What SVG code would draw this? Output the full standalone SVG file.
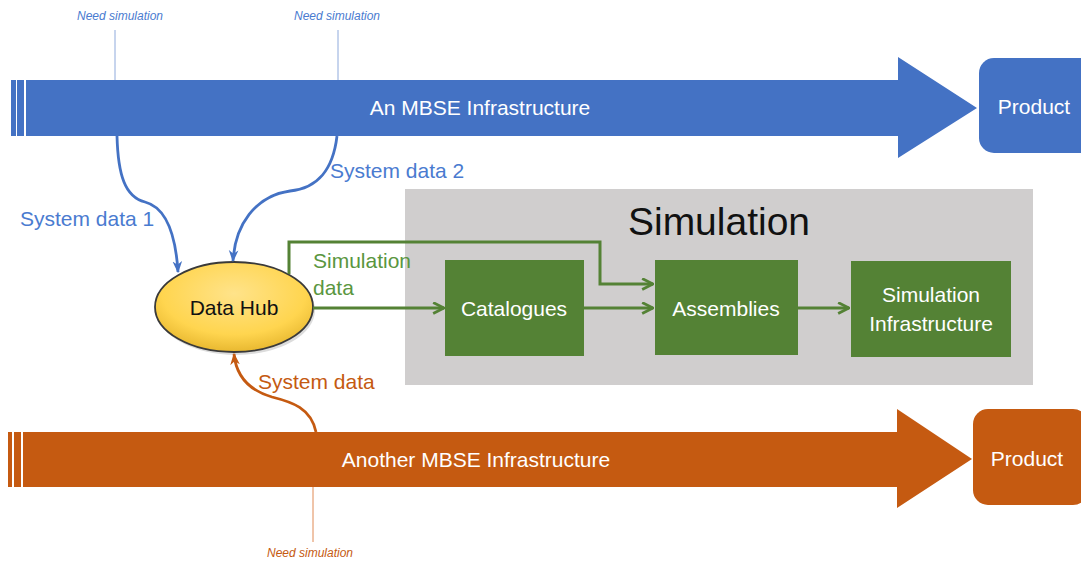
<svg xmlns="http://www.w3.org/2000/svg" width="1081" height="564" viewBox="0 0 1081 564">
<defs>
<style>
text{font-family:"Liberation Sans",Arial,sans-serif}
.w{fill:#fff;font-size:21px}
.need{font-size:12px;font-style:italic}
.lblB{fill:#4A7BD0;font-size:21px}
.lblG{fill:#5A9640;font-size:21px}
.lblO{fill:#C55A11;font-size:21px}
.box{fill:#548235}
.gl{fill:none;stroke:#548235;stroke-width:3}
</style>
<radialGradient id="hub" cx="0.5" cy="0.35" r="0.65">
<stop offset="0" stop-color="#FFE38A"/>
<stop offset="0.7" stop-color="#FFD54F"/>
<stop offset="1" stop-color="#E8B830"/>
</radialGradient>
<marker id="ag" viewBox="0 0 12 12" refX="11" refY="6" markerWidth="13" markerHeight="13" markerUnits="userSpaceOnUse" orient="auto">
<path d="M1,1 L11,6 L1,11" fill="none" stroke="#548235" stroke-width="2.6"/>
</marker>
<marker id="ab" viewBox="0 0 10 10" refX="9" refY="5" markerWidth="12" markerHeight="12" markerUnits="userSpaceOnUse" orient="auto">
<path d="M0,1 L10,5 L0,9 L3,5 Z" fill="#4472C4"/>
</marker>
<marker id="ao" viewBox="0 0 10 10" refX="9" refY="5" markerWidth="12" markerHeight="12" markerUnits="userSpaceOnUse" orient="auto">
<path d="M0,1 L10,5 L0,9 L3,5 Z" fill="#C55A11"/>
</marker>
</defs>
<rect width="1081" height="564" fill="#fff"/>

<g id="simulation-area">
<rect x="405" y="189" width="628" height="196" fill="#D0CECE"/>
<text x="719" y="235" font-size="39" fill="#111" text-anchor="middle">Simulation</text>
</g>

<g id="mbse-top">
<rect x="11" y="80" width="5" height="56" fill="#4472C4"/>
<rect x="17" y="80" width="7" height="56" fill="#4472C4"/>
<path d="M26,80 H898 V57 L977,108 L898,158 V136 H26 Z" fill="#4472C4"/>
<text class="w" x="480" y="115" text-anchor="middle">An MBSE Infrastructure</text>
</g>
<g id="product-top">
<rect x="979" y="58" width="115" height="95" rx="15" fill="#4472C4"/>
<text class="w" x="1034" y="114" text-anchor="middle">Product</text>
</g>

<g id="mbse-bottom">
<rect x="8" y="432" width="4" height="55" fill="#C55A11"/>
<rect x="14" y="432" width="7" height="55" fill="#C55A11"/>
<path d="M23,432 H897 V409 L972,459 L897,508 V487 H23 Z" fill="#C55A11"/>
<text class="w" x="476" y="467" text-anchor="middle">Another MBSE Infrastructure</text>
</g>
<g id="product-bottom">
<rect x="973" y="409" width="115" height="96" rx="15" fill="#C55A11"/>
<text class="w" x="1027" y="466" text-anchor="middle">Product</text>
</g>

<g id="need-sim">
<line x1="115" y1="30" x2="115" y2="80" stroke="#8FAADC" stroke-width="1"/>
<text class="need" x="120" y="20" fill="#4A7BD0" text-anchor="middle">Need simulation</text>
<line x1="338" y1="30" x2="338" y2="80" stroke="#8FAADC" stroke-width="1"/>
<text class="need" x="337" y="20" fill="#4A7BD0" text-anchor="middle">Need simulation</text>
<line x1="313" y1="487" x2="313" y2="542" stroke="#E08A55" stroke-width="1"/>
<text class="need" x="310" y="557" fill="#C55A11" text-anchor="middle">Need simulation</text>
</g>

<g id="data-hub">
<ellipse cx="236" cy="310" rx="79" ry="45" fill="#9a9a9a" opacity="0.35"/>
<ellipse cx="234" cy="307" rx="79" ry="45" fill="url(#hub)" stroke="#3a3a3a" stroke-width="1.8"/>
<text x="234" y="315" font-size="21" fill="#111" text-anchor="middle">Data Hub</text>
</g>

<g id="catalogues">
<rect class="box" x="445" y="260" width="139" height="96"/>
<text class="w" x="514" y="316" text-anchor="middle" font-size="20">Catalogues</text>
</g>
<g id="assemblies">
<rect class="box" x="655" y="260" width="143" height="95"/>
<text class="w" x="726" y="316" text-anchor="middle" font-size="20">Assemblies</text>
</g>
<g id="sim-infra">
<rect class="box" x="851" y="261" width="160" height="96"/>
<text class="w" x="931" y="302" text-anchor="middle" font-size="20">Simulation</text>
<text class="w" x="931" y="331" text-anchor="middle" font-size="20">Infrastructure</text>
</g>

<g id="connectors">
<path d="M117,136 C118,175 125,197 145,202 C168,208 176,240 178,272" fill="none" stroke="#4472C4" stroke-width="2.8" marker-end="url(#ab)"/>
<path d="M337,136 C333,170 318,188 290,191 C255,196 235,225 233,261" fill="none" stroke="#4472C4" stroke-width="2.8" marker-end="url(#ab)"/>
<path d="M316,432 C311,408 292,402 272,397 C248,390 236,375 234,354" fill="none" stroke="#C55A11" stroke-width="2.8" marker-end="url(#ao)"/>
<path class="gl" d="M313,308 H444" marker-end="url(#ag)"/>
<path class="gl" d="M289,274 V242 H600 V284 H653" marker-end="url(#ag)"/>
<path class="gl" d="M584,308 H653" marker-end="url(#ag)"/>
<path class="gl" d="M798,308 H849" marker-end="url(#ag)"/>
</g>

<g id="labels">
<text class="lblB" x="20" y="226">System data 1</text>
<text class="lblB" x="330" y="178">System data 2</text>
<text class="lblG" x="313" y="268">Simulation</text>
<text class="lblG" x="313" y="295">data</text>
<text class="lblO" x="258" y="389">System data</text>
</g>
</svg>
